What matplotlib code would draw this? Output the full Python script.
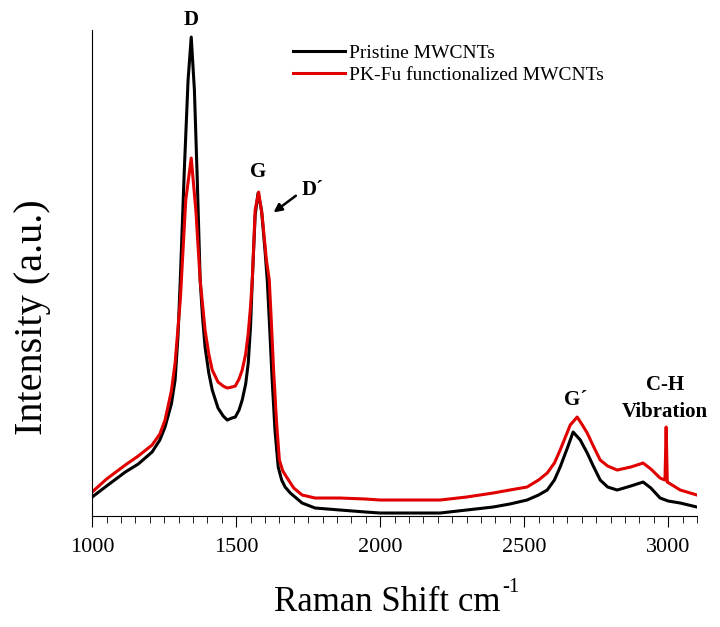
import matplotlib
matplotlib.use("Agg")
import matplotlib.pyplot as plt
from matplotlib.ticker import MultipleLocator

plt.rcParams['font.family'] = ['Liberation Serif', 'DejaVu Serif']

# Raman shift (cm-1) and intensity (a.u.)
shift_pristine = [1000, 1050, 1115, 1160, 1208, 1235, 1253, 1275, 1288, 1298, 1306,
                  1320, 1333, 1344, 1355, 1365, 1375, 1383, 1392, 1405, 1417, 1437,
                  1455, 1469, 1485, 1497, 1510, 1521, 1533, 1542, 1550, 1556, 1566,
                  1576, 1588, 1600, 1608, 1616, 1625, 1635, 1646, 1658, 1670, 1688,
                  1729, 1774, 1861, 1950, 2000, 2100, 2208, 2300, 2392, 2450, 2510,
                  2550, 2580, 2605, 2625, 2650, 2670, 2695, 2719, 2740, 2764, 2790,
                  2823, 2870, 2913, 2940, 2972, 3000, 3042, 3100]
int_pristine = [19, 30, 44, 52, 64, 76, 89, 112, 136, 180, 236,
                346, 436, 479, 426, 336, 236, 200, 169, 143, 126, 108,
                100, 96, 98, 99, 106, 116, 132, 153, 190, 236, 301,
                323, 306, 266, 236, 190, 136, 85, 49, 36, 29, 23,
                13, 8, 6, 4, 3, 3, 3, 6, 9, 12, 16,
                21, 26, 36, 49, 68, 84, 76, 63, 50, 36, 29,
                26, 30, 34, 28, 18, 15, 13, 9]

shift_func = [1000, 1050, 1115, 1160, 1208, 1235, 1253, 1275, 1288, 1306, 1325,
              1344, 1360, 1375, 1392, 1405, 1417, 1437, 1455, 1469, 1485, 1497,
              1510, 1521, 1533, 1542, 1550, 1556, 1566, 1578, 1590, 1605, 1615,
              1622, 1630, 1640, 1650, 1662, 1675, 1700, 1729, 1774, 1861, 1950,
              2000, 2100, 2208, 2300, 2392, 2450, 2510, 2550, 2580, 2605, 2625,
              2660, 2684, 2700, 2719, 2740, 2764, 2790, 2823, 2870, 2913, 2940,
              2972, 2989, 2993, 2997, 3042, 3100]
int_func = [24, 37, 51, 60, 71, 82, 96, 125, 153, 216, 316,
            358, 306, 236, 186, 162, 146, 134, 130, 128, 129, 130,
            137, 146, 162, 183, 210, 236, 306, 324, 301, 256, 236,
            195, 146, 95, 56, 45, 39, 28, 21, 18, 18, 17,
            16, 16, 16, 19, 23, 26, 29, 36, 43, 53, 66,
            91, 99, 92, 83, 70, 56, 50, 46, 49, 53, 47,
            38, 36, 89, 34, 26, 21]

labels = ['Pristine MWCNTs', 'PK-Fu functionalized MWCNTs']

fig = plt.figure(figsize=(7.2, 6.27), dpi=100)
ax = fig.add_axes([0.128, 0.177, 0.84, 0.775])

ax.plot(shift_pristine, int_pristine, color='black', lw=2.2, label=labels[0])
ax.plot(shift_func, int_func, color='#e00000', lw=2.2, label=labels[1])

ax.set_xlim(1000, 3100)
ax.set_ylim(0, 486)
ax.set_yticks([])
ax.spines['top'].set_visible(False)
ax.spines['right'].set_visible(False)
ax.xaxis.set_major_locator(MultipleLocator(500))
ax.xaxis.set_minor_locator(MultipleLocator(50))
ax.tick_params(axis='x', which='major', direction='out', length=8, labelsize=16, pad=8)
ax.tick_params(axis='x', which='minor', direction='out', length=5)

xlab = ax.set_xlabel('Raman Shift cm', fontsize=25)
ax.xaxis.set_label_coords(0.488, -0.145)
ax.annotate('-1', xy=(1, 1), xycoords=xlab, xytext=(1, 6), textcoords='offset points',
            ha='left', va='top', fontsize=15)
ax.set_ylabel('Intensity (a.u.)', fontsize=29)
ax.yaxis.set_label_coords(-0.068, 0.41)

bold = dict(fontweight='bold', fontsize=15, ha='center', va='center', clip_on=False)
ax.text(1344, 496, 'D', **bold)
ax.text(1576, 344, 'G', **bold)
ax.text(1765, 326, 'D\u00b4', **bold)
ax.text(2680, 116, 'G\u00b4', **bold)
ax.text(2990, 131, 'C-H', **bold)
ax.text(2990, 104, 'Vibration', **bold)
ax.annotate('', xy=(1622, 302), xytext=(1715, 322),
            arrowprops=dict(arrowstyle='-|>', color='black', lw=1.8, mutation_scale=12))

ax.legend(loc='upper left', bbox_to_anchor=(0.316, 0.99), frameon=False,
          fontsize=14, handlelength=2.7, handletextpad=0.2, borderpad=0,
          labelspacing=0.2)

fig.savefig('out.png', dpi=100)
